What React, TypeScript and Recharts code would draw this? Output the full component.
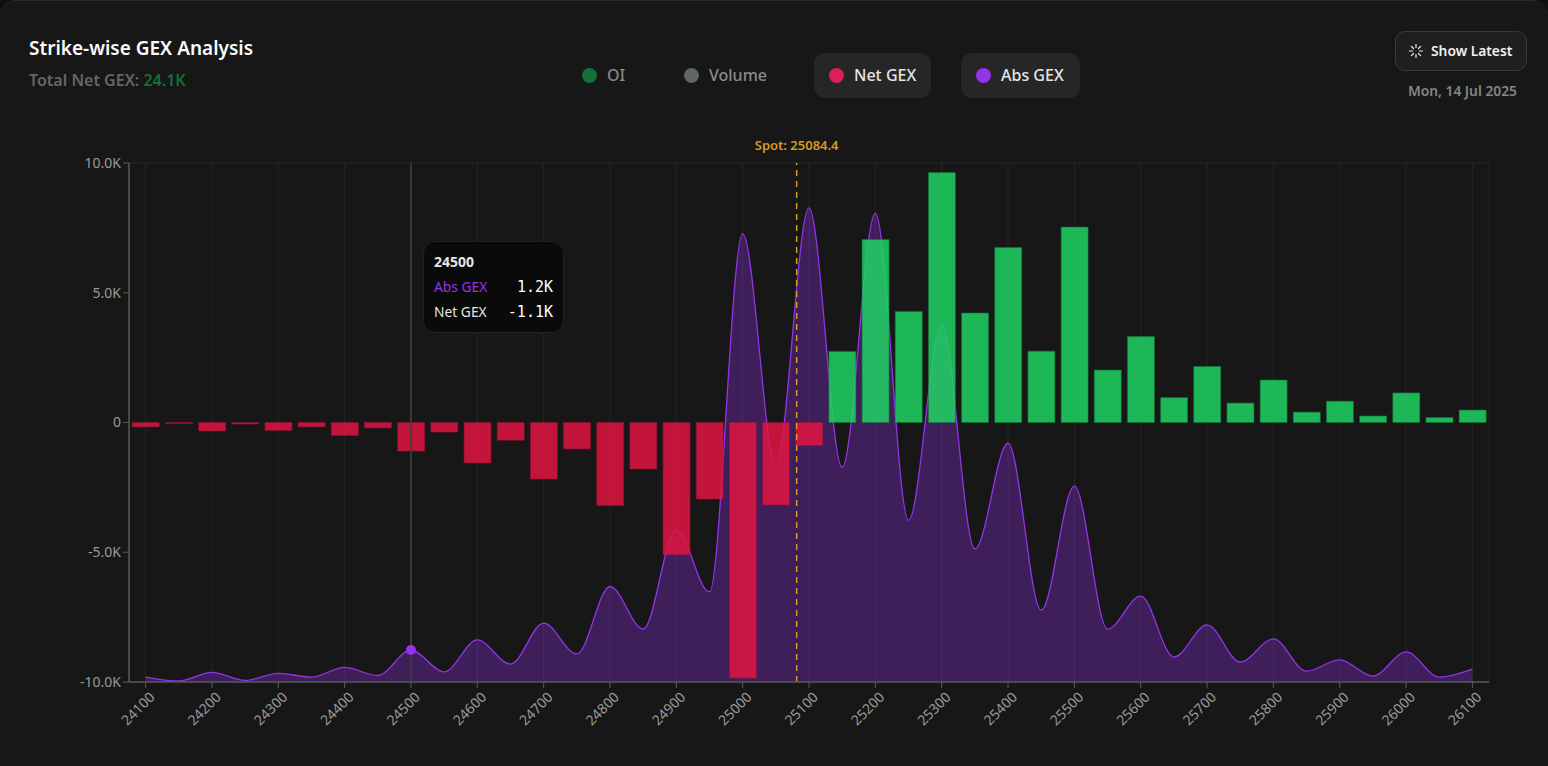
import React from "react";
import {
  ComposedChart,
  Area,
  Bar,
  Cell,
  XAxis,
  YAxis,
  CartesianGrid,
  ReferenceLine,
  Tooltip,
} from "recharts";

const strikes = [
  24100, 24150, 24200, 24250, 24300, 24350, 24400, 24450, 24500, 24550, 24600, 24650, 24700, 24750,
  24800, 24850, 24900, 24950, 25000, 25050, 25100, 25150, 25200, 25250, 25300, 25350, 25400, 25450,
  25500, 25550, 25600, 25650, 25700, 25750, 25800, 25850, 25900, 25950, 26000, 26050, 26100,
];
const netGex = [
  -170, -40, -330, -60, -310, -170, -500, -210, -1100, -370, -1560, -680, -2180, -1020, -3200, -1790,
  -5100, -2950, -9850, -3180, -890, 2740, 7050, 4280, 9630, 4220, 6740, 2750, 7530, 2020, 3310, 960,
  2160, 750, 1640, 400, 820, 250, 1140, 190, 480,
];
const absGex = [
  190, 40, 370, 60, 330, 190, 560, 250, 1230, 390, 1620, 690, 2270, 1080, 3680, 2040, 5880, 3470,
  17270, 8390, 18270, 8270, 18070, 6230, 13750, 5130, 9200, 2770, 7550, 2040, 3310, 960, 2200, 770,
  1660, 420, 850, 230, 1160, 190, 500,
];
const yTicks = [-10000, -5000, 0, 5000, 10000];
const spotValue = 25084.4;
const totalNetGex = "24.1K";
const rows = strikes.map((strike, i) => ({ strike, net: netGex[i], abs: absGex[i] }));

const FONT = "'Noto Sans', sans-serif";
const PURPLE = "#9333ea";
const GRID = "#262626";
const fmtK = (v: number) => `${(v / 1000).toFixed(1)}K`;
const fmtAxis = (v: number) => (v === 0 ? "0" : fmtK(v));

function TipBox() {
  const mono = { fontFamily: "'DejaVu Sans Mono', monospace", fontSize: 15, color: "#fff" };
  return (
    <div
      style={{
        width: 141,
        height: 92,
        boxSizing: "border-box",
        background: "#0a0a0a",
        border: "1px solid #222",
        borderRadius: 12,
        padding: "10px 10px",
        fontFamily: FONT,
        fontSize: 13.8,
        color: "#e5e5e5",
      }}
    >
      <div style={{ fontWeight: 700, fontSize: 14, height: 25, lineHeight: "20px" }}>24500</div>
      <div style={{ display: "flex", justifyContent: "space-between", height: 25, lineHeight: "20px" }}>
        <span style={{ color: PURPLE }}>Abs GEX</span>
        <span style={mono}>{fmtK(absGex[8])}</span>
      </div>
      <div style={{ display: "flex", justifyContent: "space-between", height: 25, lineHeight: "20px" }}>
        <span>Net GEX</span>
        <span style={mono}>{fmtK(netGex[8])}</span>
      </div>
    </div>
  );
}

function LegendItem(props: { dot: string; label: string; x: number; w: number; active?: boolean }) {
  const { dot, label, x, w, active } = props;
  return (
    <div
      style={{
        position: "absolute",
        left: x,
        top: 53,
        width: w,
        height: 45,
        borderRadius: 11,
        background: active ? "#262626" : "transparent",
      }}
    >
      <div
        style={{
          position: "absolute",
          left: 15,
          top: 15,
          width: 15,
          height: 15,
          borderRadius: "50%",
          background: dot,
        }}
      />
      <div
        style={{
          position: "absolute",
          left: 40,
          top: 0,
          lineHeight: "44px",
          fontSize: 16,
          fontWeight: 500,
          whiteSpace: "nowrap",
          color: active ? "#e5e5e5" : "#8a8a8a",
        }}
      >
        {label}
      </div>
    </div>
  );
}

function Spinner() {
  const a = [0, 45, 90, 135, 180, 225, 270, 315];
  return (
    <svg width={16} height={16} viewBox="0 0 16 16" style={{ position: "absolute", left: 12, top: 11 }}>
      {a.map((d) => (
        <line key={d} x1={8} y1={1.5} x2={8} y2={4.5} stroke="#eee" strokeWidth={1.2} strokeLinecap="round" transform={`rotate(${d} 8 8)`} />
      ))}
    </svg>
  );
}

export default function App() {
  return (
    <div style={{ position: "fixed", inset: 0, background: "#0f0f0f", overflow: "hidden", fontFamily: FONT }}>
      <div
        style={{
          position: "absolute",
          left: 0,
          top: 0,
          width: 1548,
          height: 790,
          background: "#171717",
          borderRadius: 16,
          borderTop: "1px solid #2a2a2a",
          boxSizing: "border-box",
        }}
      />
      <div style={{ position: "absolute", left: 29, top: 35, fontSize: 19, fontWeight: 600, color: "#fafafa", whiteSpace: "nowrap", lineHeight: "26px" }}>
        Strike-wise GEX Analysis
      </div>
      <div style={{ position: "absolute", left: 29, top: 68, fontSize: 16, fontWeight: 600, color: "#666", whiteSpace: "nowrap", lineHeight: "24px" }}>
        Total Net GEX: <span style={{ color: "#15703a" }}>{totalNetGex}</span>
      </div>

      <LegendItem dot="#15703a" label="OI" x={567} w={70} />
      <LegendItem dot="#5f6664" label="Volume" x={669} w={120} />
      <LegendItem dot="#e11d58" label="Net GEX" x={814} w={117} active />
      <LegendItem dot={PURPLE} label="Abs GEX" x={961} w={119} active />

      <div
        style={{
          position: "absolute",
          left: 1395,
          top: 31,
          width: 132,
          height: 40,
          boxSizing: "border-box",
          background: "#1f1f1f",
          border: "1px solid #3a3a3a",
          borderRadius: 10,
        }}
      >
        <Spinner />
        <div style={{ position: "absolute", left: 35, top: 0, lineHeight: "38px", fontSize: 13.8, fontWeight: 600, color: "#f0f0f0", whiteSpace: "nowrap" }}>
          Show Latest
        </div>
      </div>
      <div style={{ position: "absolute", right: 31, top: 81, lineHeight: "20px", fontSize: 13.8, fontWeight: 600, color: "#858585", whiteSpace: "nowrap" }}>
        Mon, 14 Jul 2025
      </div>

      <div style={{ position: "absolute", left: 0, top: 0 }}>
        <ComposedChart
          width={1548}
          height={766}
          data={rows}
          margin={{ top: 163, right: 59, bottom: 24, left: 69 }}
          barCategoryGap="10%"
        >
          <CartesianGrid stroke={GRID} horizontalValues={[10000]} verticalValues={strikes} syncWithTicks={false} />
          <XAxis
            dataKey="strike"
            type="category"
            interval={1}
            height={60}
            angle={-45}
            textAnchor="end"
            tick={{ fill: "#9a9a9a", fontSize: 14, fontFamily: FONT, dx: 3, dy: 1 }}
            tickLine={{ stroke: "#5a5a5a" }}
            axisLine={{ stroke: "#5a5a5a", strokeWidth: 1.5 }}
          />
          <XAxis xAxisId="spot" dataKey="strike" type="number" domain={[24078, 26128]} allowDataOverflow hide />
          <YAxis
            width={60}
            domain={[-10000, 10000]}
            ticks={yTicks}
            tickFormatter={fmtAxis}
            tick={{ fill: "#9a9a9a", fontSize: 14, fontFamily: FONT }}
            tickLine={{ stroke: "#5a5a5a" }}
            axisLine={{ stroke: "#5a5a5a", strokeWidth: 1.5 }}
          />
          <YAxis yAxisId="abs" domain={[0, 20000]} hide />
          <Tooltip
            active
            defaultIndex={8}
            position={{ x: 423, y: 241 }}
            content={() => <TipBox />}
            cursor={{ stroke: "#3f3f3f", strokeWidth: 1.5 }}
            isAnimationActive={false}
            wrapperStyle={{ outline: "none" }}
          />
          <Area
            yAxisId="abs"
            type="monotone"
            dataKey="abs"
            stroke={PURPLE}
            strokeWidth={1.3}
            fill={PURPLE}
            fillOpacity={0.32}
            dot={false}
            activeDot={{ r: 5, fill: PURPLE, stroke: "none" }}
            isAnimationActive={false}
          />
          <Bar dataKey="net" isAnimationActive={false} opacity={0.85}>
            {rows.map((r) => (
              <Cell key={r.strike} fill={r.net < 0 ? "#e21542" : "#20d464"} stroke={r.net < 0 ? "#9f1239" : "#15803d"} strokeWidth={0.6} />
            ))}
          </Bar>
          <ReferenceLine xAxisId="spot" yAxisId={0} x={26128} stroke={GRID} ifOverflow="visible" />
          <ReferenceLine
            xAxisId="spot"
            yAxisId={0}
            x={spotValue}
            ifOverflow="visible"
            stroke="#d99a1f"
            strokeDasharray="6 5"
            strokeWidth={1.5}
            label={{ value: `Spot: ${spotValue}`, position: "top", offset: 13, fill: "#d99a1f", fontSize: 13, fontWeight: 600, fontFamily: FONT }}
          />
        </ComposedChart>
      </div>
    </div>
  );
}
